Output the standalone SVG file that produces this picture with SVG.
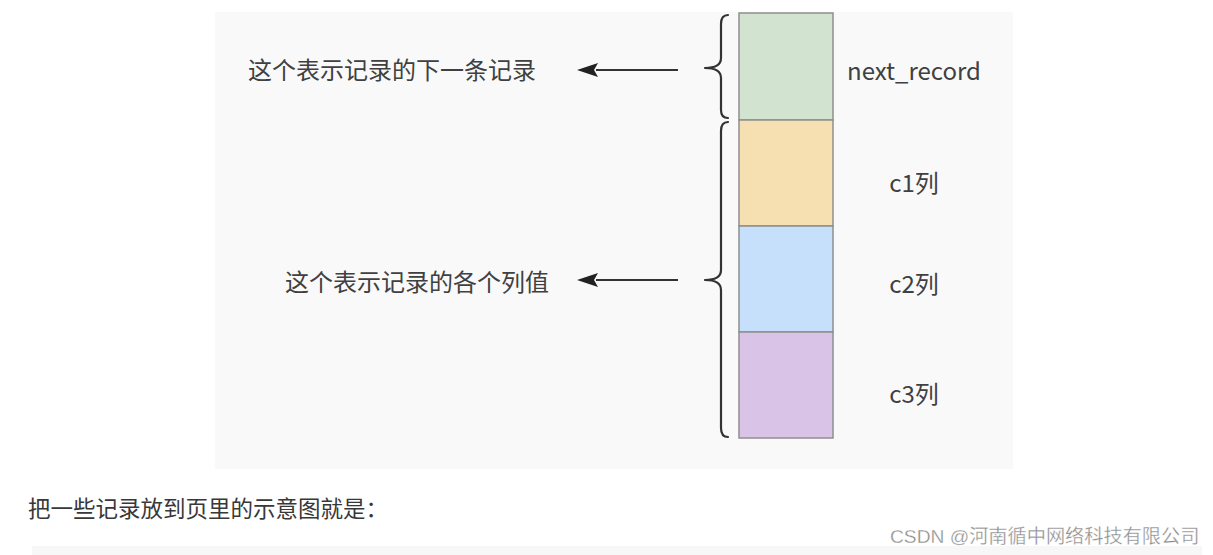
<svg xmlns="http://www.w3.org/2000/svg" width="1213" height="555" viewBox="0 0 1213 555">
<defs>
<style>
.t{font-family:"Noto Sans CJK SC","Microsoft YaHei",sans-serif;fill:#404040}
.cell{stroke:#8f8f8f;stroke-width:1.5}
.brace{fill:none;stroke:#333;stroke-width:2.2;stroke-linecap:round;stroke-linejoin:round}
.arr{stroke:#333;stroke-width:2.2;fill:none}
</style>
</defs>
<rect width="1213" height="555" fill="#ffffff"/>
<rect x="215" y="12" width="798" height="457" fill="#f9f9f9"/>
<rect x="32" y="546" width="1170" height="9" fill="#f7f7f7"/>

<g id="next_record">
<rect class="cell" x="739" y="13" width="94" height="107" fill="#d2e4cf"/>
<text class="t" x="914" y="80" font-size="24" text-anchor="middle">next_record</text>
</g>
<g id="c1">
<rect class="cell" x="739" y="120" width="94" height="106" fill="#f6dfb0"/>
<text class="t" x="914" y="192" font-size="24" text-anchor="middle">c1列</text>
</g>
<g id="c2">
<rect class="cell" x="739" y="226" width="94" height="106" fill="#c6dffa"/>
<text class="t" x="914" y="293" font-size="24" text-anchor="middle">c2列</text>
</g>
<g id="c3">
<rect class="cell" x="739" y="332" width="94" height="106" fill="#d9c4e7"/>
<text class="t" x="914" y="403" font-size="24" text-anchor="middle">c3列</text>
</g>

<g id="label_next">
<text class="t" x="248" y="79" font-size="24">这个表示记录的下一条记录</text>
</g>
<g id="label_cols">
<text class="t" x="285" y="291" font-size="24">这个表示记录的各个列值</text>
</g>

<g id="connectors">
<path class="brace" d="M728,15 Q721,15 721,24 L721,58 Q721,68 705,68 Q721,68 721,78 L721,110 Q721,118 728,118"/>
<path class="brace" d="M728,122 Q721,122 721,131 L721,270 Q721,280 705,280 Q721,280 721,290 L721,428 Q721,437 728,437"/>
<line class="arr" x1="678" y1="70" x2="596" y2="70"/>
<line class="arr" x1="678" y1="280" x2="596" y2="280"/>
<path d="M598,63 L577,70 L598,77 L594,70 Z" fill="#222"/>
<path d="M598,273 L577,280 L598,287 L594,280 Z" fill="#222"/>
</g>

<text class="t" x="28" y="517" font-size="22.5" style="fill:#383838">把一些记录放到页里的示意图就是：</text>
<text x="890" y="543" font-size="19.2" style="font-family:'Liberation Sans','Noto Sans CJK SC',sans-serif" fill="#8c8c8c" stroke="#ffffff" stroke-width="0.3">CSDN @河南循中网络科技有限公司</text>
</svg>
